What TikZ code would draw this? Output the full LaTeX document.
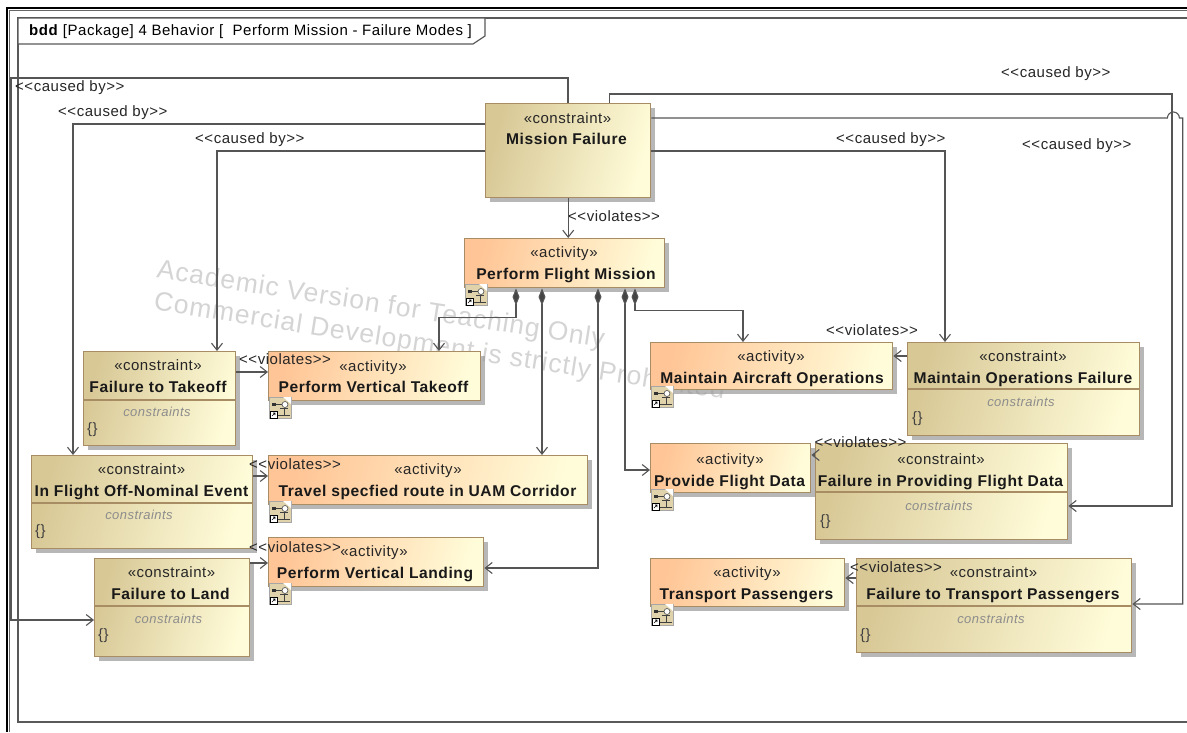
\documentclass[tikz,border=0pt]{standalone}
\usepackage{fontspec}
\setmainfont{Liberation Sans}[LetterSpace=3.5]
\usetikzlibrary{arrows.meta,shadows,positioning}
\definecolor{edgegray}{HTML}{555555}
\definecolor{boxborder}{HTML}{A88C64}
\definecolor{sandleft}{HTML}{D8C896}
\definecolor{peachleft}{HTML}{FFC596}
\definecolor{creamright}{HTML}{FFFCD9}
\tikzset{
	boxbase/.style={draw=boxborder, line width=1.4pt, anchor=north west, inner sep=0pt,
		drop shadow={shadow xshift=4pt, shadow yshift=-4pt, fill=black!40, opacity=.7}},
	constraintbox/.style={boxbase, left color=sandleft, right color=creamright, shading angle=75},
	activitybox/.style={boxbase, left color=peachleft, right color=creamright, shading angle=75},
	stereo/.style={inner sep=0pt, text height=13pt, text depth=3pt, font=\fontsize{15}{17}\selectfont, text=black!85},
	title/.style={inner sep=0pt, text height=13pt, text depth=3pt, font=\fontsize{15.6}{18}\selectfont\bfseries, text=black!90},
	compart/.style={inner sep=0pt, text height=11pt, text depth=3pt, font=\fontsize{13}{15}\selectfont\itshape, text=black!45},
	braces/.style={inner sep=0pt, anchor=west, font=\fontsize{15}{17}\selectfont, text=black!75},
	rel/.style={inner sep=0pt, anchor=west, text height=14pt, text depth=3pt, font=\fontsize{15}{17}\selectfont, text=black!85},
	stamp/.style={inner sep=0pt, anchor=west, rotate=-8.9, font=\fontsize{26.5}{30}\selectfont, text=black!17},
	link/.style={draw=edgegray, line width=1.1pt, -{Straight Barb[length=7pt,width=11pt]}},
	comp/.style={draw=edgegray, line width=1.1pt, {Diamond[length=17pt,width=7pt,fill=edgegray!80!black]}-{Straight Barb[length=7pt,width=11pt]}},
	divider/.style={draw=boxborder, line width=1.4pt},
	icon/.style={draw=black!35, fill=sandleft!80!white, line width=.8pt, minimum width=22pt, minimum height=21pt, inner sep=0pt, anchor=north west},
	acticon/.pic={
		\fill[white] (14,0) -- (22,0) -- (22,7) -- cycle;
		\fill[black!80] (3,6) rectangle (7,9);
		\draw[black!75, line width=.7pt] (7,7.5) -- (13,7.5);
		\draw[black!70, fill=white, line width=.6pt] (16,7.5) circle[radius=3pt];
		\draw[black!75, line width=.8pt] (15,11) -- (15,18) (11,11.5) -- (19,11.5) (9,18) -- (21,18);
		\draw[black, fill=white, line width=.9pt] (1,14) rectangle (8,21);
		\draw[black, line width=.6pt] (3,19) -- (6,16) (4,16) -- (6,16) -- (6,18);
	}
}
\begin{document}
\begin{tikzpicture}[x=1pt,y=-1pt]
	\useasboundingbox (0,0) rectangle (1187,732);

	%frame
	\node[inner sep=0pt] (origin) at (0,0) {};
	\draw[black, line width=1.8pt] (origin.center) ++(1187,8) -- ++(-1180,0) -- ++(0,724);
	\draw[black!60, line width=.8pt] (origin.center) ++(1187,10) -- ++(-1178,0) -- ++(0,722);
	\draw[black!65, line width=1.2pt] (origin.center) ++(1187,18) -- ++(-1169,0) -- ++(0,704) -- ++(1169,0);

	%caption
	\draw[black!65, fill=white, line width=1.2pt] (18,18) -- (485,18) -- (485,36) -- (473,44) -- (18,44) -- cycle;
	\node[inner sep=0pt, anchor=west, font=\fontsize{15}{17}\selectfont] (caption) at (29,32) {\textbf{bdd} [Package] 4 Behavior [\ \ Perform Mission - Failure Modes ]};

	%watermark
	\node[stamp] (stamp1) at (157,271) {Academic Version for Teaching Only};
	\node[stamp] (stamp2) at (154,303) {Commercial Development is strictly Prohibited};

	%mission failure
	\node[constraintbox, minimum width=165pt, minimum height=94pt] (mf) at (485,103) {};
	\node[stereo] (mfs) at (567.5,118) {«constraint»};
	\node[title] (mft) at (566.5,139) {Mission Failure};

	%perform flight mission
	\node[activitybox, minimum width=200pt, minimum height=49pt] (pfm) at (464,238) {};
	\node[stereo] (pfms) at (564,252) {«activity»};
	\node[title] (pfmt) at (566,274) {Perform Flight Mission};
	\node[icon] (pfmi) at (465,284) {};

	%failure to takeoff
	\node[constraintbox, minimum width=152pt, minimum height=94pt] (ftt) at (83,351) {};
	\draw[divider] (ftt.west |- 0,400) -- (ftt.east |- 0,400);
	\node[stereo] (ftts) at (158,365) {«constraint»};
	\node[title] (fttt) at (158,387) {Failure to Takeoff};
	\node[compart] (fttc) at (157,412) {constraints};
	\node[braces] (fttb) at (87,430) {\{\}};

	%perform vertical takeoff
	\node[activitybox, minimum width=212pt, minimum height=49pt] (pvt) at (268,351) {};
	\node[stereo] (pvts) at (373,366) {«activity»};
	\node[title] (pvtt) at (373.5,387) {Perform Vertical Takeoff};
	\node[icon] (pvti) at (269,397) {};

	%in flight off-nominal event
	\node[constraintbox, minimum width=221pt, minimum height=93pt] (ifo) at (31,455) {};
	\draw[divider] (ifo.west |- 0,503) -- (ifo.east |- 0,503);
	\node[stereo] (ifos) at (141.5,469) {«constraint»};
	\node[title] (ifot) at (141.5,491) {In Flight Off-Nominal Event};
	\node[compart] (ifoc) at (139,515) {constraints};
	\node[braces] (ifob) at (35,532) {\{\}};

	%travel route
	\node[activitybox, minimum width=319pt, minimum height=49pt] (trv) at (268,455) {};
	\node[stereo] (trvs) at (428,469) {«activity»};
	\node[title] (trvt) at (427.5,491) {Travel specfied route in UAM Corridor};
	\node[icon] (trvi) at (269,501) {};

	%perform vertical landing
	\node[activitybox, minimum width=215pt, minimum height=49pt] (pvl) at (268,537) {};
	\node[stereo] (pvls) at (374,551) {«activity»};
	\node[title] (pvlt) at (375,573) {Perform Vertical Landing};
	\node[icon] (pvli) at (269,583) {};

	%failure to land
	\node[constraintbox, minimum width=155pt, minimum height=98pt] (ftl) at (94,558) {};
	\draw[divider] (ftl.west |- 0,606) -- (ftl.east |- 0,606);
	\node[stereo] (ftls) at (171.5,572) {«constraint»};
	\node[title] (ftlt) at (170.5,594) {Failure to Land};
	\node[compart] (ftlc) at (168.5,619) {constraints};
	\node[braces] (ftlb) at (98,636) {\{\}};

	%maintain aircraft operations
	\node[activitybox, minimum width=242pt, minimum height=47pt] (mao) at (650,342) {};
	\node[stereo] (maos) at (771,356) {«activity»};
	\node[title] (maot) at (772,378) {Maintain Aircraft Operations};
	\node[icon] (maoi) at (651,386) {};

	%maintain operations failure
	\node[constraintbox, minimum width=232pt, minimum height=93pt] (mof) at (907,342) {};
	\draw[divider] (mof.west |- 0,389) -- (mof.east |- 0,389);
	\node[stereo] (mofs) at (1023,356) {«constraint»};
	\node[title] (moft) at (1023,378) {Maintain Operations Failure};
	\node[compart] (mofc) at (1021,402) {constraints};
	\node[braces] (mofb) at (912,419) {\{\}};

	%provide flight data
	\node[activitybox, minimum width=160pt, minimum height=49pt] (pfd) at (650,443) {};
	\node[stereo] (pfds) at (730,459) {«activity»};
	\node[title] (pfdt) at (729.5,481) {Provide Flight Data};
	\node[icon] (pfdi) at (651,489) {};

	%failure in providing flight data
	\node[constraintbox, minimum width=252pt, minimum height=96pt] (fpd) at (815,443) {};
	\draw[divider] (fpd.west |- 0,492) -- (fpd.east |- 0,492);
	\node[stereo] (fpds) at (941,459) {«constraint»};
	\node[title] (fpdt) at (940.5,481) {Failure in Providing Flight Data};
	\node[compart] (fpdc) at (939,506) {constraints};
	\node[braces] (fpdb) at (820,522) {\{\}};

	%transport passengers
	\node[activitybox, minimum width=194pt, minimum height=48pt] (tpp) at (650,558) {};
	\node[stereo] (tpps) at (747,572) {«activity»};
	\node[title] (tppt) at (746.5,594) {Transport Passengers};
	\node[icon] (tppi) at (651,604) {};

	%failure to transport passengers
	\node[constraintbox, minimum width=275pt, minimum height=94pt] (ftp) at (856,558) {};
	\draw[divider] (ftp.west |- 0,606) -- (ftp.east |- 0,606);
	\node[stereo] (ftps) at (993.5,572) {«constraint»};
	\node[title] (ftpt) at (993,594) {Failure to Transport Passengers};
	\node[compart] (ftpc) at (991,619) {constraints};
	\node[braces] (ftpb) at (860,636) {\{\}};

	% icons
	\foreach \n in {pfmi,pvti,trvi,pvli,maoi,pfdi,tppi}
		\path (\n.north west) pic {acticon};

	% violates
	\draw[link] (mf.south) -- (mf.south |- pfm.north);
	\draw[link] ([yshift=-21pt]ftt.north east) -- ([yshift=-21pt]pvt.north west);
	\draw[link] ([yshift=-21pt]ifo.north east) -- ([yshift=-21pt]trv.north west);
	\draw[link] ([yshift=-5pt]ftl.north east) -- ([yshift=-26pt]pvl.north west);
	\draw[link] ([yshift=-14pt]mof.north west) -- ([yshift=-14pt]mao.north east);
	\draw[link] ([yshift=-12pt]fpd.north west) -- ([yshift=-12pt]pfd.north east);
	\draw[link] ([yshift=-20pt]ftp.north west) -- ([yshift=-20pt]tpp.north east);

	% caused by
	\draw[link] ([xshift=83pt]mf.north west) -- ++(0,-25) -- (11,78) |- ([yshift=-62pt]ftl.north west);
	\draw[link] ([yshift=-21pt]mf.north west) -| ([xshift=42pt]ifo.north west);
	\draw[link] ([yshift=-48pt]mf.north west) -| ([xshift=134pt]ftt.north west);
	\draw[link] ([yshift=-48pt]mf.north east) -| ([xshift=38pt]mof.north west);
	\draw[link] ([xshift=-42pt]mf.north east) -- ++(0,-9) -| (1172,300) |- ([yshift=-63pt]fpd.north east);
	\draw[link] ([yshift=-15pt]mf.north east) -- ++(516,0) arc[start angle=180, end angle=0, radius=6pt] -- ++(3.3,0) |- ([yshift=-46pt]ftp.north east);

	% composition
	\draw[comp] ([xshift=52pt]pfm.south west) -- ++(0,29) -| ([xshift=171pt]pvt.north west);
	\draw[comp] ([xshift=78pt]pfm.south west) -- ([xshift=274pt]trv.north west);
	\draw[comp] ([xshift=134pt]pfm.south west) |- ([yshift=-31pt]pvl.north east);
	\draw[comp] ([xshift=161pt]pfm.south west) |- ([yshift=-27pt]pfd.north west);
	\draw[comp] ([xshift=171pt]pfm.south west) -- ++(0,22) -| ([xshift=93pt]mao.north west);

	% labels
	\node[rel] (cb1) at (15,86) {<{}<caused by>{}>};
	\node[rel] (cb2) at (58,111) {<{}<caused by>{}>};
	\node[rel] (cb3) at (195,138) {<{}<caused by>{}>};
	\node[rel] (cb4) at (836,138) {<{}<caused by>{}>};
	\node[rel] (cb5) at (1001,72) {<{}<caused by>{}>};
	\node[rel] (cb6) at (1022,144) {<{}<caused by>{}>};
	\node[rel] (vi1) at (568,216) {<{}<violates>{}>};
	\node[rel] (vi2) at (239,359) {<{}<violates>{}>};
	\node[rel] (vi3) at (249,464) {<{}<violates>{}>};
	\node[rel] (vi4) at (249,547) {<{}<violates>{}>};
	\node[rel] (vi5) at (826,330) {<{}<violates>{}>};
	\node[rel] (vi6) at (814.5,442) {<{}<violates>{}>};
	\node[rel] (vi7) at (850,567) {<{}<violates>{}>};

\end{tikzpicture}
\end{document}
